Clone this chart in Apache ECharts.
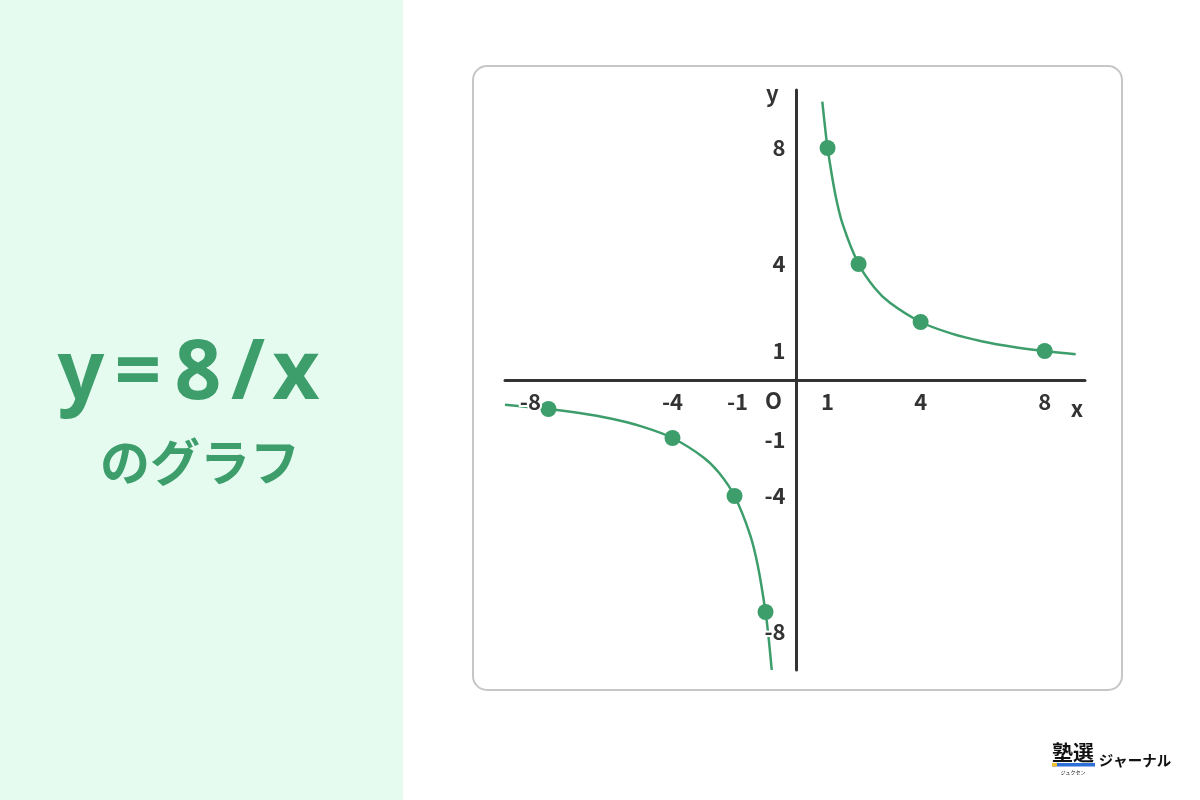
<!DOCTYPE html>
<html><head><meta charset="utf-8">
<script src="https://cdn.jsdelivr.net/npm/echarts@6/dist/echarts.min.js"></script>
<style>html,body{margin:0;padding:0;background:#fff}#c{width:1200px;height:800px}</style>
</head><body><div id="c"></div>
<script>
// ---- data ----
const xTickLabels = [-8, -4, -1, 1, 4, 8];
const yTickLabels = [-8, -4, -1, 1, 4, 8];
// curve samples read along the drawn hyperbola (quadrant I and III)
const curveQ1 = [[0.83,9.6],[0.9,8.9],[1,8],[1.25,6.4],[1.5,5.33],[2,4],[2.5,3.2],[3,2.67],[4,2],[5,1.6],[6,1.33],[7,1.14],[8,1],[9.0,0.89]];
const curveQ3 = [[-9.4,-0.85],[-8,-1],[-7,-1.14],[-6,-1.33],[-5,-1.6],[-4,-2],[-3,-2.67],[-2.5,-3.2],[-2,-4],[-1.5,-5.33],[-1.25,-6.4],[-1,-8],[-0.9,-8.9],[-0.8,-10]];
const markedPoints = [[1,8],[2,4],[4,2],[8,1],[-1,-8],[-2,-4],[-4,-2],[-8,-1]];
const titleChars = ['y','=','8','/','x'];
const subtitle = 'のグラフ';

const GREEN = '#3d9e6c';
const DARK = '#333333';
const FONT = '"Noto Sans CJK JP", "Noto Sans", sans-serif';

// label nudges (pixels) so labels near the origin don't collide, as in the reference layout
const xLabelShift = {'-8':-18, '-1':-28};
const yLabelShift = {'-1':31, '-8':20};

const chart = echarts.init(document.getElementById('c'), null, {renderer:'canvas'});
const titleX = [81, 138, 198, 248, 296];
const graphics = [
  {type:'rect', z:-10, shape:{x:0,y:0,width:403,height:800}, style:{fill:'#e6fbf0'}},
  {type:'rect', z:-10, shape:{x:473,y:66,width:649,height:624,r:14}, style:{fill:'#fff',stroke:'#c6c6c6',lineWidth:2}},
  {type:'text', x:200, y:462, style:{text:subtitle, font:'bold 50px '+FONT, fill:GREEN, align:'center', verticalAlign:'middle'}},
  // logo
  {type:'text', x:1073, y:752, style:{text:'塾選', font:'bold 21px '+FONT, fill:'#111', align:'center', verticalAlign:'middle'}},
  {type:'rect', shape:{x:1052,y:763,width:43,height:3.5}, style:{fill:'#2d6fd6'}},
  {type:'rect', shape:{x:1052,y:763,width:5,height:3.5}, style:{fill:'#f2c230'}},
  {type:'text', x:1073, y:772, style:{text:'ジュクセン', font:'5px '+FONT, fill:'#222', align:'center', verticalAlign:'middle'}},
  {type:'text', x:1135, y:760, style:{text:'ジャーナル', font:'bold 14.5px '+FONT, fill:'#111', align:'center', verticalAlign:'middle'}}
];
titleChars.forEach((ch,i)=>graphics.push({type:'text', x:titleX[i], y:376, style:{text:ch, font:'bold 82px "Noto Sans", sans-serif', fill:GREEN, align:'center', verticalAlign:'middle'}}));

const labelStyle = {fontFamily:FONT, fontWeight:'bold', fontSize:22, color:DARK};
const haloLabel = Object.assign({textBorderColor:'#ffffff', textBorderWidth:4}, labelStyle);
chart.setOption({
  animation:false,
  backgroundColor:'#ffffff',
  grid:{left:505, top:90, width:580, height:580},
  xAxis:{type:'value', min:-9.4, max:9.3,
    axisLine:{onZero:true, lineStyle:{color:DARK, width:3}},
    axisTick:{show:false}, splitLine:{show:false}, axisLabel:{show:false},
    name:'x', nameLocation:'end', nameGap:-8,
    nameTextStyle:Object.assign({align:'center', verticalAlign:'top', padding:[18,0,0,0]}, labelStyle)
  },
  yAxis:{type:'value', min:-10, max:10,
    axisLine:{onZero:true, lineStyle:{color:DARK, width:3}},
    axisTick:{show:false}, splitLine:{show:false}, axisLabel:{show:false},
    name:'y', nameLocation:'end', nameGap:-4,
    nameTextStyle:Object.assign({align:'right', verticalAlign:'middle', padding:[0,18,0,0]}, labelStyle)
  },
  series:[
    {type:'line', data:curveQ1, smooth:0.35, showSymbol:false, lineStyle:{color:GREEN, width:2.5}, z:3},
    {type:'line', data:curveQ3, smooth:0.35, showSymbol:false, lineStyle:{color:GREEN, width:2.5}, z:3},
    {type:'scatter', data:markedPoints, symbolSize:16, itemStyle:{color:GREEN, opacity:1}, z:4},
    // tick labels placed at axis values on the axis lines
    {type:'scatter', symbolSize:0, silent:true, z:5, itemStyle:{opacity:1},
      data:xTickLabels.map(v=>({value:[v,0], label:{offset:[xLabelShift[v]||0,0]}})),
      label:Object.assign({show:true, position:'bottom', distance:11, opacity:1, formatter:p=>String(p.value[0])}, haloLabel)},
    {type:'scatter', symbolSize:0, silent:true, z:5, itemStyle:{opacity:1},
      data:yTickLabels.map(v=>({value:[0,v], label:{offset:[0,yLabelShift[v]||0]}})),
      label:Object.assign({show:true, position:'left', distance:11, opacity:1, formatter:p=>String(p.value[1])}, haloLabel)}
  ],
  graphic:graphics
});
const o = chart.convertToPixel({gridIndex:0},[0,0]);
graphics.push({type:'text', x:o[0]-23, y:o[1]+21, style:{text:'O', font:'bold 22px '+FONT, fill:DARK, align:'center', verticalAlign:'middle'}});
chart.setOption({graphic:graphics});
</script></body></html>
